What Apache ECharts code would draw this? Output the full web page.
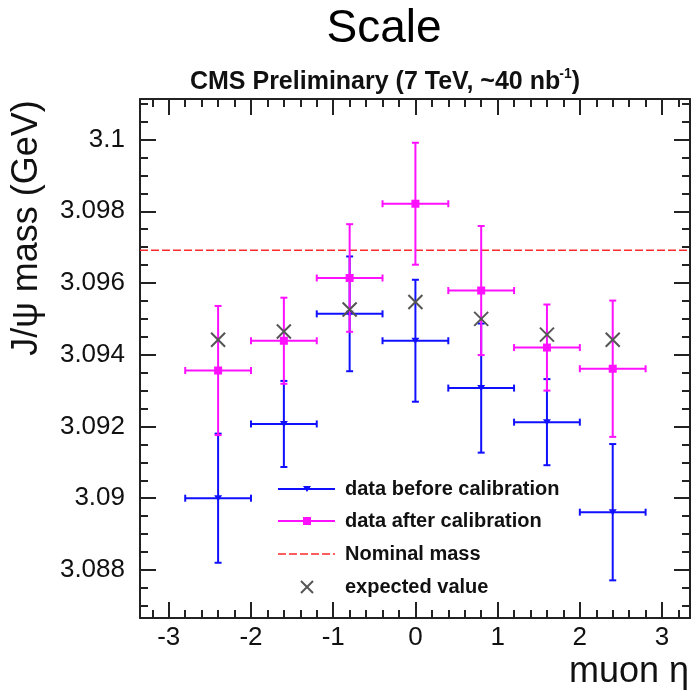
<!DOCTYPE html>
<html><head><meta charset="utf-8">
<script src="https://cdn.jsdelivr.net/npm/echarts@6/dist/echarts.min.js"></script>
<style>html,body{margin:0;padding:0;background:#fff;overflow:hidden}#c{width:695px;height:691px}</style>
</head><body><div id="c"></div>
<script>
// ---- data ----
const etaCenters   = [-2.4, -1.6, -0.8, 0, 0.8, 1.6, 2.4];
const etaHalfWidth = [0.4, 0.4, 0.4, 0.4, 0.4, 0.4, 0.4];
const beforeMass   = [3.0900, 3.09207, 3.09514, 3.09439, 3.09307, 3.09212, 3.08961];
const beforeErr    = [0.0018, 0.0012, 0.0016, 0.0017, 0.0018, 0.0012, 0.0019];
const afterMass    = [3.09356, 3.09439, 3.09614, 3.09821, 3.09579, 3.09420, 3.09361];
const afterErr     = [0.0018, 0.0012, 0.0015, 0.0017, 0.0018, 0.0012, 0.0019];
const expectedMass = [3.09442, 3.09465, 3.09526, 3.09547, 3.09500, 3.09456, 3.09442];
const nominalMass  = 3.09691;
const xRange = [-3.35, 3.34];
const yRange = [3.08666, 3.10113];
const legendLabels = ['data before calibration', 'data after calibration', 'Nominal mass', 'expected value'];

const FONT = '"Liberation Sans", Arial, sans-serif';
const BLUE = '#1010ff', MAG = '#ff10ff', RED = '#ff2a2a', GRAY = '#555555', AX = '#222222';

function rows(m, e) { return etaCenters.map((x, i) => [x, m[i], etaHalfWidth[i], e[i]]); }

function errRender(color, marker) {
  return function (params, api) {
    const x = api.value(0), y = api.value(1), ex = api.value(2), ey = api.value(3);
    const c = api.coord([x, y]);
    const l = api.coord([x - ex, y]), r = api.coord([x + ex, y]);
    const t = api.coord([x, y + ey]), b = api.coord([x, y - ey]);
    const st = { stroke: color, lineWidth: 2 };
    const cap = 3.5;
    const ch = [
      { type: 'line', shape: { x1: l[0], y1: c[1], x2: r[0], y2: c[1] }, style: st },
      { type: 'line', shape: { x1: c[0], y1: t[1], x2: c[0], y2: b[1] }, style: st },
      { type: 'line', shape: { x1: l[0], y1: c[1] - cap, x2: l[0], y2: c[1] + cap }, style: st },
      { type: 'line', shape: { x1: r[0], y1: c[1] - cap, x2: r[0], y2: c[1] + cap }, style: st },
      { type: 'line', shape: { x1: c[0] - cap, y1: t[1], x2: c[0] + cap, y2: t[1] }, style: st },
      { type: 'line', shape: { x1: c[0] - cap, y1: b[1], x2: c[0] + cap, y2: b[1] }, style: st }
    ];
    if (marker === 'tri') {
      ch.push({ type: 'polygon', shape: { points: [[c[0] - 4, c[1] - 3], [c[0] + 4, c[1] - 3], [c[0], c[1] + 3]] }, style: { fill: color } });
    } else {
      ch.push({ type: 'rect', shape: { x: c[0] - 4, y: c[1] - 4, width: 8, height: 8 }, style: { fill: color } });
    }
    return { type: 'group', children: ch };
  };
}

function xRender(params, api) {
  const c = api.coord([api.value(0), api.value(1)]);
  const s = 7;
  const st = { stroke: GRAY, lineWidth: 2 };
  return { type: 'group', children: [
    { type: 'line', shape: { x1: c[0] - s, y1: c[1] - s, x2: c[0] + s, y2: c[1] + s }, style: st },
    { type: 'line', shape: { x1: c[0] - s, y1: c[1] + s, x2: c[0] + s, y2: c[1] - s }, style: st }
  ]};
}

function axisCommon(labels, minorSplit, margin) {
  return {
    axisLine: { show: true, onZero: false, lineStyle: { color: AX, width: 2 } },
    axisTick: { show: true, inside: true, length: 16, lineStyle: { color: AX, width: 2 } },
    minorTick: { show: true, splitNumber: minorSplit, length: 8, lineStyle: { color: AX, width: 2 } },
    splitLine: { show: false },
    minorSplitLine: { show: false },
    axisLabel: { show: labels, margin: margin, fontSize: 26, color: '#111', fontFamily: FONT, showMinLabel: false, showMaxLabel: false }
  };
}
function xAx(pos, labels) {
  return Object.assign({ type: 'value', position: pos, min: xRange[0], max: xRange[1], splitNumber: 7 }, axisCommon(labels, 5, 7));
}
function yAx(pos, labels) {
  return Object.assign({ type: 'value', position: pos, min: yRange[0], max: yRange[1], splitNumber: 7 }, axisCommon(labels, 4, 15));
}

const legendY = [489, 521, 554, 587];
const graphic = [
  { type: 'text', x: 27, y: 228, rotation: Math.PI / 2, style: { text: 'J/ψ mass (GeV)', font: '36px ' + FONT, fill: '#111', align: 'center', verticalAlign: 'middle' } },
  { type: 'text', x: 689, y: 672, style: { text: 'muon η', font: '36px ' + FONT, fill: '#111', align: 'right', verticalAlign: 'middle' } },
  { type: 'line', shape: { x1: 278, y1: legendY[0], x2: 335, y2: legendY[0] }, style: { stroke: BLUE, lineWidth: 2 } },
  { type: 'polygon', shape: { points: [[303, legendY[0] - 3], [311, legendY[0] - 3], [307, legendY[0] + 3]] }, style: { fill: BLUE } },
  { type: 'line', shape: { x1: 278, y1: legendY[1], x2: 335, y2: legendY[1] }, style: { stroke: MAG, lineWidth: 2 } },
  { type: 'rect', shape: { x: 303, y: legendY[1] - 4, width: 8, height: 8 }, style: { fill: MAG } },
  { type: 'line', shape: { x1: 278, y1: legendY[2], x2: 335, y2: legendY[2] }, style: { stroke: RED, lineWidth: 1.5, lineDash: [8, 3] } },
  { type: 'line', shape: { x1: 301, y1: legendY[3] - 6, x2: 313, y2: legendY[3] + 6 }, style: { stroke: GRAY, lineWidth: 2 } },
  { type: 'line', shape: { x1: 301, y1: legendY[3] + 6, x2: 313, y2: legendY[3] - 6 }, style: { stroke: GRAY, lineWidth: 2 } }
];
legendLabels.forEach((t, i) => graphic.push({ type: 'text', x: 345, y: legendY[i], style: { text: t, font: 'bold 20px ' + FONT, fill: '#111', verticalAlign: 'middle' } }));

const chart = echarts.init(document.getElementById('c'), null, { renderer: 'canvas', width: 695, height: 691 });
chart.setOption({
  animation: false,
  backgroundColor: '#fff',
  title: [
    { text: 'Scale', left: 379, top: 1, textAlign: 'center', textStyle: { fontFamily: FONT, fontSize: 46, fontWeight: 'normal', color: '#000' } },
    { text: '{a|CMS Preliminary (7 TeV, ~40 nb}{s|-1}{a|)}', left: 380, top: 62, textAlign: 'center',
      textStyle: { rich: {
        a: { fontFamily: FONT, fontSize: 25, fontWeight: 'bold', color: '#111', lineHeight: 28, verticalAlign: 'bottom' },
        s: { fontFamily: FONT, fontSize: 14, fontWeight: 'bold', color: '#111', lineHeight: 28, verticalAlign: 'top', padding: [0, 0, 0, -1] }
      } } }
  ],
  grid: { left: 140, right: 5, top: 99, bottom: 73, containLabel: false },
  xAxis: [xAx('bottom', true), xAx('top', false)],
  yAxis: [yAx('left', true), yAx('right', false)],
  graphic: graphic,
  series: [
    { name: 'Nominal mass', type: 'line', data: [[xRange[0], nominalMass], [xRange[1], nominalMass]], showSymbol: false, silent: true,
      lineStyle: { color: RED, width: 1.5, type: [8, 3] }, z: 2 },
    { name: 'data before calibration', type: 'custom', renderItem: errRender(BLUE, 'tri'), data: rows(beforeMass, beforeErr), z: 3 },
    { name: 'data after calibration', type: 'custom', renderItem: errRender(MAG, 'sq'), data: rows(afterMass, afterErr), z: 4 },
    { name: 'expected value', type: 'custom', renderItem: xRender, data: etaCenters.map((x, i) => [x, expectedMass[i]]), z: 5 }
  ]
});
</script></body></html>
